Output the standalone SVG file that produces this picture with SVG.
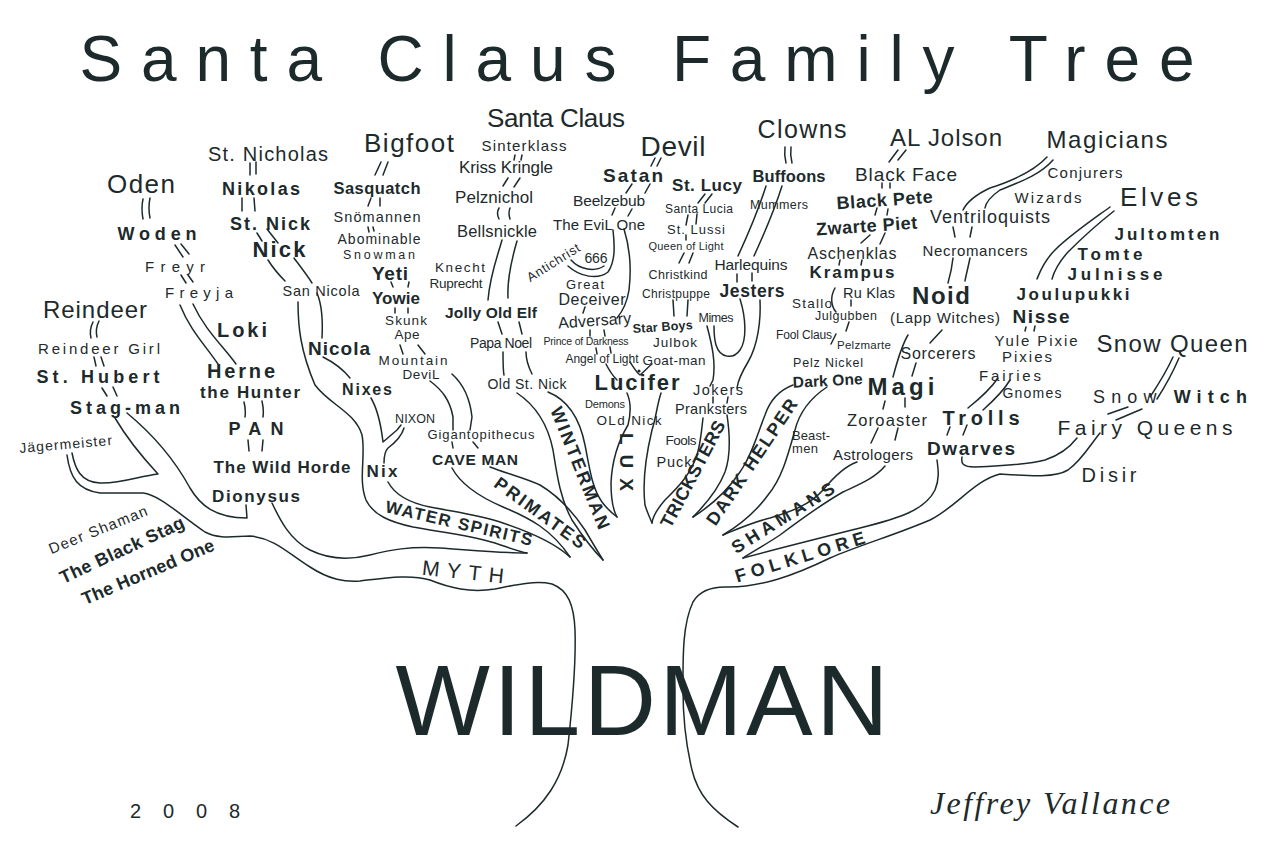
<svg xmlns="http://www.w3.org/2000/svg" width="1280" height="858" viewBox="0 0 1280 858">
<style>
text{font-family:"Liberation Sans",Arial,sans-serif;fill:#1d2a2c;text-anchor:middle}
.b{font-weight:bold}
.l{fill:none;stroke:#1d2a2c;stroke-width:1.5;stroke-linecap:round;stroke-linejoin:round}
.sig{font-family:"Liberation Serif",serif;font-style:italic}
</style>
<rect width="1280" height="858" fill="#ffffff"/>
<g id="connectors" class="l">
<path d="M67,455 C70,478 78,490 100,493 L143,493 C160,495 180,515 205,532 C220,540 235,536 250,536 C275,538 290,555 310,567 C330,580 345,582 360,581 C385,578 410,574 430,580 C450,588 470,593 495,589 C515,585 535,580 552,584 C568,590 574,605 575,630 C576,660 573,700 568,745 C562,780 545,805 516,826"/>
<path d="M72,453 C75,468 80,482 100,483 C120,484 140,476 158,474 C145,460 128,440 115,418"/>
<path d="M127,413 C150,432 172,455 190,488 C200,505 215,518 247,518 L246,505"/>
<path d="M272,503 C280,520 290,540 310,550 C330,560 350,560 370,555 C390,550 410,546 440,548 C470,550 500,553 527,553"/>
<path d="M298,302 C298,325 300,350 315,385 C330,405 355,412 362,435 C366,455 358,480 366,500 C373,515 390,522 413,527 C440,532 470,535 495,543 C510,548 520,552 527,553"/>
<path d="M388,482 C395,495 410,503 430,507 C455,512 480,515 503,523 C530,532 555,543 570,557"/>
<path d="M452,468 C460,483 475,495 503,507 C530,518 552,530 570,557"/>
<path d="M490,467 C505,473 525,478 540,485 C560,497 575,515 585,530 C592,542 598,552 603,560"/>
<path d="M517,393 C535,405 548,425 553,450 C557,475 560,498 572,520 C585,540 595,552 603,560"/>
<path d="M548,392 C568,400 580,420 585,445 C590,470 592,488 602,502 C608,510 613,514 617,517"/>
<path d="M627,393 C631,402 631,413 628,425 C619,440 612,460 611,483 C611,500 613,510 617,517"/>
<path d="M661,393 C657,405 656,418 652,430 C646,455 642,480 645,505 C647,512 650,518 652,523"/>
<path d="M703,418 C701,435 700,450 695,460 C688,478 675,490 665,500 C658,508 653,515 652,523"/>
<path d="M727,415 C730,435 731,455 725,472 C718,490 705,505 693,517"/>
<path d="M793,385 C780,390 770,400 765,415 C757,435 752,455 740,472 C728,490 712,505 693,517"/>
<path d="M827,387 C812,397 800,410 795,430 C788,455 782,478 768,495 C757,510 740,525 723,535"/>
<path d="M857,462 C845,466 833,478 823,490 C810,505 790,512 770,518 C750,523 735,530 723,535"/>
<path d="M885,466 C875,478 860,484 843,492 C820,505 800,520 780,535 C765,545 752,552 743,558"/>
<path d="M743,558 C780,548 820,538 860,528 C900,518 925,510 935,490 C940,478 938,468 937,460"/>
<path d="M962,457 C961,463 962,467 975,467 C1000,466 1030,464 1045,460 C1060,455 1070,447 1077,438"/>
<path d="M738,827 C712,810 698,795 692,770 C686,745 683,715 683,690 C683,660 682,625 693,602 C700,590 712,587 725,587 C760,588 795,575 830,558 C860,545 895,535 930,520 C955,508 975,480 1000,474 C1030,476 1055,478 1068,470 C1082,460 1090,445 1100,433"/>
<path d="M143,199 Q141,208 143,219 M150,198 Q148,208 150,218"/>
<path d="M175,245 L183,257 M181,244 L189,254"/>
<path d="M181,275 L186,283 M188,275 L193,282"/>
<path d="M180,305 C190,330 205,345 218,364 M193,304 C205,330 222,345 236,364"/>
<path d="M244,402 Q246,410 245,417 M262,401 Q264,410 263,417"/>
<path d="M248,440 L249,451 M263,440 L262,451"/>
<path d="M93,322 Q89,330 91,338 M99,321 Q95,329 97,337"/>
<path d="M94,357 L96,366 M101,357 L104,366"/>
<path d="M102,388 L107,396 M113,387 L117,396"/>
<path d="M250,163 L250,175 M256,162 L256,174"/>
<path d="M242,198 L242,211 M254,198 L255,211"/>
<path d="M257,233 L262,241 M267,229 L278,243"/>
<path d="M268,260 C273,268 279,275 285,281 M294,258 C300,266 307,275 312,283"/>
<path d="M317,293 C322,305 323,320 322,338"/>
<path d="M323,357 C333,362 342,368 350,378"/>
<path d="M371,398 C378,410 381,425 383,442 L397,430 L401,425"/>
<path d="M404,428 C402,435 396,442 388,448 C384,452 384,458 384,463"/>
<path d="M381,162 L375,175 M388,162 L383,175"/>
<path d="M371,198 L368,206 M380,198 L380,206"/>
<path d="M368,227 L369,232 M373,227 L374,231"/>
<path d="M391,282 L393,287 M409,282 L408,287"/>
<path d="M395,308 L395,313 M408,308 L408,313"/>
<path d="M400,345 L403,354 M418,345 L425,354"/>
<path d="M430,381 C442,390 450,400 453,417 L453,430 M452,374 C462,383 470,398 472,417 L470,430"/>
<path d="M452,442 L453,448 M473,442 L478,448"/>
<path d="M515,155 L514,160 M522,155 L521,160"/>
<path d="M508,178 L503,186 M520,178 L514,187"/>
<path d="M499,208 Q496,213 499,219 M510,208 Q508,213 510,219"/>
<path d="M502,240 C497,258 490,275 488,300 M517,241 C512,258 507,278 508,298"/>
<path d="M498,322 L502,334 M519,322 L522,334"/>
<path d="M503,352 C503,362 503,370 504,375 M526,352 C526,362 530,370 532,374"/>
<path d="M655,158 L651,166 M661,158 L657,166"/>
<path d="M632,184 L626,193 M650,184 L645,193"/>
<path d="M615,208 L612,215 M632,209 L628,216"/>
<path d="M613,230 C615,248 615,262 608,272 C598,280 580,277 568,266"/>
<path d="M604,266 C595,272 580,270 571,260"/>
<path d="M624,229 C629,245 632,265 629,290 C627,303 622,312 617,318"/>
<path d="M585,307 L583,313"/>
<path d="M590,330 L590,336 M604,330 L605,336"/>
<path d="M596,348 L597,354 M610,347 L611,353"/>
<path d="M606,364 C609,370 613,376 617,380"/>
<path d="M630,362 C634,368 637,373 640,375 C644,372 648,367 652,364"/>
<path d="M705,194 L698,203 M712,194 L705,203"/>
<path d="M688,215 L686,225 M697,214 L696,224"/>
<path d="M686,235 L686,240"/>
<path d="M684,253 L679,263 M693,253 L689,263"/>
<path d="M673,300 L674,316 M688,300 L687,316"/>
<path d="M785,147 Q784,155 786,163 M791,147 Q790,155 792,163"/>
<path d="M766,186 C760,205 750,230 738,256 M782,186 C776,205 765,232 754,256"/>
<path d="M737,274 L737,282 M752,273 L752,281"/>
<path d="M740,299 C746,318 747,340 740,350 C733,360 720,358 716,345 C714,338 714,332 714,326"/>
<path d="M707,326 C712,345 716,362 713,380 L710,386"/>
<path d="M760,300 C761,320 758,345 748,362 C742,372 738,380 737,388"/>
<path d="M713,397 L713,403 M728,397 L727,403"/>
<path d="M898,150 L889,162 M906,150 L898,160"/>
<path d="M882,183 L882,188 M890,183 L890,188"/>
<path d="M877,208 L875,215 M888,209 L887,215"/>
<path d="M870,235 L861,243 M885,233 L880,244"/>
<path d="M840,260 L839,265 M862,260 L861,265"/>
<path d="M835,288 C830,297 831,306 836,312"/>
<path d="M851,300 L851,306"/>
<path d="M849,322 L846,331"/>
<path d="M836,334 L831,344"/>
<path d="M1047,157 C1035,170 1015,180 990,188 C975,195 967,202 963,210 M1053,160 C1040,175 1020,182 1000,190 C990,197 986,202 985,208"/>
<path d="M953,227 L955,237 M972,227 L970,237"/>
<path d="M953,258 C952,268 950,276 948,283 M970,258 C968,268 966,275 965,281"/>
<path d="M908,335 C902,345 898,358 893,377"/>
<path d="M942,330 L930,343"/>
<path d="M916,363 L912,376"/>
<path d="M885,401 L883,409 M905,398 L905,407"/>
<path d="M878,428 L871,443 M898,428 L895,440"/>
<path d="M1110,207 C1095,218 1070,235 1055,250 C1043,262 1040,272 1037,279 M1114,211 C1100,222 1080,240 1068,252 C1058,263 1054,272 1052,279"/>
<path d="M1026,327 L1025,331 M1035,326 L1034,331"/>
<path d="M998,378 C990,390 978,400 968,408 M1010,380 C1003,392 992,402 983,410"/>
<path d="M950,427 L947,435 M967,425 L963,435"/>
<path d="M1173,357 C1168,368 1160,382 1150,397 M1179,358 C1173,372 1166,385 1157,399"/>
<path d="M1108,414 L1128,407 M1116,420 L1142,409"/>
</g>
<circle cx="639" cy="371" r="1.6" fill="#1d2a2c"/>

<g id="title"><text x="637" y="81" font-size="64" textLength="1115">Santa Claus Family Tree</text></g>
<g id="wildman"><text x="642" y="735" font-size="100" textLength="493">WILDMAN</text></g>
<g id="year"><text x="185" y="818" font-size="20" textLength="110">2008</text></g>
<g id="signature"><text class="sig" x="1050" y="814" font-size="32" textLength="240">Jeffrey Vallance</text></g>

<g id="n-santa-claus"><text x="556" y="127" font-size="26" textLength="138">Santa Claus</text></g>
<g id="n-sinterklass"><text x="524" y="151" font-size="15" textLength="85">Sinterklass</text></g>
<g id="n-kriss-kringle"><text x="506" y="173" font-size="17" textLength="94">Kriss Kringle</text></g>
<g id="n-pelznichol"><text x="494" y="203" font-size="17" textLength="78">Pelznichol</text></g>
<g id="n-bellsnickle"><text x="497" y="237" font-size="16.5" textLength="80">Bellsnickle</text></g>
<g id="n-knecht"><text x="460" y="272" font-size="13.5" textLength="50">Knecht</text><text x="456" y="288" font-size="13.5" textLength="53">Ruprecht</text></g>
<g id="n-jolly-old-elf"><text class="b" x="491" y="318" font-size="15.5" textLength="92">Jolly Old Elf</text></g>
<g id="n-papa-noel"><text x="501" y="348" font-size="14" textLength="62">Papa Noel</text></g>
<g id="n-old-st-nick"><text x="527" y="389" font-size="14" textLength="79">Old St. Nick</text></g>
<g id="n-antichrist"><text transform="translate(553,262) rotate(-32)" y="5" font-size="13" textLength="60">Antichrist</text></g>
<g id="n-666"><text x="596" y="263" font-size="14" textLength="23">666</text></g>
<g id="n-great-deceiver"><text x="585" y="289" font-size="13" textLength="38">Great</text><text x="592" y="305" font-size="16" textLength="67">Deceiver</text></g>
<g id="n-adversary"><text transform="rotate(-4 595 326)" x="595" y="326" font-size="16" textLength="73">Adversary</text></g>
<g id="n-prince"><text x="586" y="345" font-size="10.5" textLength="85">Prince of Darkness</text></g>
<g id="n-angel"><text x="602" y="363" font-size="12" textLength="73">Angel of Light</text></g>
<g id="n-demons"><text x="605" y="408" font-size="11" textLength="40">Demons</text></g>
<g id="n-devil"><text x="673" y="156" font-size="28" textLength="65">Devil</text></g>
<g id="n-satan"><text class="b" x="633" y="182" font-size="19" textLength="60">Satan</text></g>
<g id="n-beelzebub"><text x="609" y="206" font-size="15.5" textLength="72">Beelzebub</text></g>
<g id="n-evil-one"><text x="599" y="230" font-size="15" textLength="92">The EviL One</text></g>
<g id="n-st-lucy"><text class="b" x="707" y="191" font-size="17" textLength="70">St. Lucy</text></g>
<g id="n-santa-lucia"><text x="699" y="213" font-size="12" textLength="68">Santa Lucia</text></g>
<g id="n-st-lussi"><text x="696" y="234" font-size="13" textLength="58">St. Lussi</text></g>
<g id="n-queen-of-light"><text x="686" y="250" font-size="11" textLength="75">Queen of Light</text></g>
<g id="n-christkind"><text x="678" y="279" font-size="12.5" textLength="59">Christkind</text></g>
<g id="n-christpuppe"><text x="676" y="298" font-size="12" textLength="68">Christpuppe</text></g>
<g id="n-star-boys"><text class="b" transform="rotate(-4 663 331)" x="663" y="331" font-size="12.5" textLength="60">Star Boys</text></g>
<g id="n-julbok"><text x="675" y="347" font-size="13.5" textLength="44">Julbok</text></g>
<g id="n-goat-man"><text x="674" y="365" font-size="13.5" textLength="63">Goat-man</text></g>
<g id="n-mimes"><text x="716" y="322" font-size="12.5" textLength="35">Mimes</text></g>
<g id="n-lucifer"><text class="b" x="637" y="390" font-size="22" textLength="85">Lucifer</text></g>
<g id="n-old-nick"><text x="629" y="425" font-size="13.5" textLength="65">OLd Nick</text></g>
<g id="n-jokers"><text x="718" y="395" font-size="14.5" textLength="50">Jokers</text></g>
<g id="n-pranksters"><text x="711" y="414" font-size="14.5" textLength="72">Pranksters</text></g>
<g id="n-fools"><text x="681" y="445" font-size="13.5" textLength="31">Fools</text></g>
<g id="n-puck"><text x="674" y="467" font-size="14.5" textLength="35">Puck</text></g>
<g id="n-harlequins"><text x="751" y="270" font-size="15.5" textLength="73">Harlequins</text></g>
<g id="n-jesters"><text class="b" x="752" y="297" font-size="17.5" textLength="65">Jesters</text></g>
<g id="n-buffoons"><text class="b" x="789" y="182" font-size="16.5" textLength="73">Buffoons</text></g>
<g id="n-mummers"><text x="779" y="209" font-size="12.5" textLength="58">Mummers</text></g>
<g id="n-clowns"><text x="802" y="138" font-size="25" textLength="89">Clowns</text></g>
<g id="n-al-jolson"><text x="946" y="146" font-size="24" textLength="112">AL Jolson</text></g>
<g id="n-black-face"><text x="906" y="181" font-size="19" textLength="102">Black Face</text></g>
<g id="n-black-pete"><text class="b" transform="rotate(-4 885 206)" x="885" y="206" font-size="18" textLength="96">Black Pete</text></g>
<g id="n-zwarte-piet"><text class="b" transform="rotate(-4 867 232)" x="867" y="232" font-size="18" textLength="101">Zwarte Piet</text></g>
<g id="n-aschenklas"><text x="852" y="259" font-size="16" textLength="89">Aschenklas</text></g>
<g id="n-krampus"><text class="b" x="852" y="278" font-size="17" textLength="85">Krampus</text></g>
<g id="n-stallo"><text x="812" y="308" font-size="13.5" textLength="40">Stallo</text></g>
<g id="n-ru-klas"><text x="869" y="298" font-size="14.5" textLength="52">Ru Klas</text></g>
<g id="n-julgubben"><text x="846" y="320" font-size="12.5" textLength="62">Julgubben</text></g>
<g id="n-fool-claus"><text x="804" y="339" font-size="12" textLength="56">Fool Claus</text></g>
<g id="n-pelzmarte"><text x="864" y="349" font-size="11.5" textLength="54">Pelzmarte</text></g>
<g id="n-pelz-nickel"><text x="828" y="367" font-size="12.5" textLength="70">Pelz Nickel</text></g>
<g id="n-dark-one"><text class="b" transform="rotate(-3 828 386)" x="828" y="386" font-size="15.5" textLength="70">Dark One</text></g>
<g id="n-beastmen"><text x="811" y="440" font-size="13" textLength="38">Beast-</text><text x="805" y="453" font-size="13" textLength="26">men</text></g>
<g id="n-zoroaster"><text x="887" y="426" font-size="16.5" textLength="80">Zoroaster</text></g>
<g id="n-astrologers"><text x="873" y="460" font-size="15" textLength="80">Astrologers</text></g>
<g id="n-magi"><text class="b" x="901" y="395" font-size="24" textLength="67">Magi</text></g>
<g id="n-sorcerers"><text x="938" y="359" font-size="16" textLength="75">Sorcerers</text></g>
<g id="n-noid"><text class="b" x="941" y="304" font-size="24" textLength="58">Noid</text></g>
<g id="n-lapp-witches"><text x="945" y="323" font-size="15" textLength="110">(Lapp Witches)</text></g>
<g id="n-necromancers"><text x="975" y="256" font-size="15" textLength="105">Necromancers</text></g>
<g id="n-ventriloquists"><text x="990" y="223" font-size="18" textLength="120">Ventriloquists</text></g>
<g id="n-trolls"><text class="b" x="981" y="425" font-size="20" textLength="77">Trolls</text></g>
<g id="n-dwarves"><text class="b" x="971" y="455" font-size="19" textLength="88">Dwarves</text></g>
<g id="n-fairies"><text x="1010" y="381" font-size="15" textLength="62">Fairies</text></g>
<g id="n-magicians"><text x="1107" y="148" font-size="24" textLength="121">Magicians</text></g>
<g id="n-conjurers"><text x="1085" y="178" font-size="15" textLength="75">Conjurers</text></g>
<g id="n-wizards"><text x="1048" y="203" font-size="15" textLength="67">Wizards</text></g>
<g id="n-elves"><text x="1159" y="206" font-size="26" textLength="78">Elves</text></g>
<g id="n-jultomten"><text class="b" x="1167" y="240" font-size="17" textLength="105">Jultomten</text></g>
<g id="n-tomte"><text class="b" x="1110" y="260" font-size="17" textLength="65">Tomte</text></g>
<g id="n-julnisse"><text class="b" x="1115" y="280" font-size="17" textLength="95">Julnisse</text></g>
<g id="n-joulupukki"><text class="b" x="1073" y="300" font-size="17" textLength="113">Joulupukki</text></g>
<g id="n-nisse"><text class="b" x="1041" y="323" font-size="19" textLength="57">Nisse</text></g>
<g id="n-yule-pixie"><text x="1036" y="346" font-size="15" textLength="83">Yule Pixie</text></g>
<g id="n-pixies"><text x="1027" y="362" font-size="15" textLength="50">Pixies</text></g>
<g id="n-gnomes"><text x="1032" y="398" font-size="14" textLength="59">Gnomes</text></g>
<g id="n-snow-queen"><text x="1172" y="352" font-size="24" textLength="151">Snow Queen</text></g>
<g id="n-snow-witch"><text x="1170" y="403" font-size="18" textLength="154"><tspan>Snow </tspan><tspan class="b">Witch</tspan></text></g>
<g id="n-fairy-queens"><text x="1145" y="435" font-size="21" textLength="175">Fairy Queens</text></g>
<g id="n-disir"><text x="1109" y="482" font-size="20" textLength="55">Disir</text></g>

<g id="n-st-nicholas"><text x="268" y="161" font-size="20" textLength="120">St. Nicholas</text></g>
<g id="n-nikolas"><text class="b" x="261" y="195" font-size="18" textLength="78">Nikolas</text></g>
<g id="n-st-nick"><text class="b" x="270" y="230" font-size="18" textLength="80">St. Nick</text></g>
<g id="n-nick"><text class="b" x="279" y="257" font-size="22" textLength="53">Nick</text></g>
<g id="n-san-nicola"><text x="321" y="296" font-size="14.5" textLength="77">San Nicola</text></g>
<g id="n-nicola"><text class="b" x="339" y="355" font-size="19" textLength="62">Nicola</text></g>
<g id="n-nixes"><text class="b" x="367" y="395" font-size="16" textLength="50">Nixes</text></g>
<g id="n-nixon"><text x="415" y="423" font-size="12.5" textLength="40">NIXON</text></g>
<g id="n-nix"><text class="b" x="382" y="477" font-size="17" textLength="31">Nix</text></g>
<g id="n-bigfoot"><text x="409" y="152" font-size="26" textLength="90">Bigfoot</text></g>
<g id="n-sasquatch"><text class="b" x="377" y="194" font-size="16.5" textLength="87">Sasquatch</text></g>
<g id="n-snomannen"><text x="377" y="222" font-size="14.5" textLength="87">Snömannen</text></g>
<g id="n-abominable"><text x="379" y="244" font-size="14" textLength="83">Abominable</text><text x="379" y="259" font-size="12.5" textLength="72">Snowman</text></g>
<g id="n-yeti"><text class="b" x="390" y="280" font-size="19" textLength="36">Yeti</text></g>
<g id="n-yowie"><text class="b" x="396" y="304" font-size="17" textLength="48">Yowie</text></g>
<g id="n-skunk-ape"><text x="406" y="325" font-size="13.5" textLength="42">Skunk</text><text x="407" y="339" font-size="13.5" textLength="25">Ape</text></g>
<g id="n-mountain-devil"><text x="413" y="365" font-size="13.5" textLength="69">Mountain</text><text x="421" y="379" font-size="13.5" textLength="37">DeviL</text></g>
<g id="n-gigantopithecus"><text x="481" y="439" font-size="13" textLength="107">Gigantopithecus</text></g>
<g id="n-cave-man"><text class="b" x="475" y="465" font-size="15.5" textLength="86">CAVE MAN</text></g>
<g id="n-oden"><text x="141" y="193" font-size="26" textLength="68">Oden</text></g>
<g id="n-woden"><text class="b" x="157" y="240" font-size="18" textLength="79">Woden</text></g>
<g id="n-freyr"><text x="175" y="272" font-size="15" textLength="60">Freyr</text></g>
<g id="n-freyja"><text x="199" y="298" font-size="15" textLength="68">Freyja</text></g>
<g id="n-loki"><text class="b" x="242" y="337" font-size="20" textLength="50">Loki</text></g>
<g id="n-herne"><text class="b" x="241" y="378" font-size="20" textLength="68">Herne</text><text class="b" x="250" y="398" font-size="17" textLength="100">the Hunter</text></g>
<g id="n-pan"><text class="b" x="256" y="435" font-size="18" textLength="55">PAN</text></g>
<g id="n-wild-horde"><text class="b" x="282" y="473" font-size="17" textLength="137">The Wild Horde</text></g>
<g id="n-dionysus"><text class="b" x="256" y="502" font-size="17" textLength="88">Dionysus</text></g>
<g id="n-reindeer"><text x="95" y="318" font-size="24" textLength="104">Reindeer</text></g>
<g id="n-reindeer-girl"><text x="99" y="354" font-size="15" textLength="122">Reindeer Girl</text></g>
<g id="n-st-hubert"><text class="b" x="98" y="383" font-size="18" textLength="123">St. Hubert</text></g>
<g id="n-stag-man"><text class="b" x="125" y="414" font-size="18" textLength="110">Stag-man</text></g>
<g id="n-jagermeister"><text transform="rotate(-5 66 449)" x="66" y="449" font-size="14" textLength="93">Jägermeister</text></g>
<g id="n-deer-shaman"><text transform="translate(98,530) rotate(-22)" y="5" font-size="15" textLength="105">Deer Shaman</text></g>
<g id="n-black-stag"><text class="b" transform="translate(122,550) rotate(-25)" y="6" font-size="18" textLength="135">The Black Stag</text></g>
<g id="n-horned-one"><text class="b" transform="translate(148,572) rotate(-23)" y="6" font-size="18" textLength="142">The Horned One</text></g>

<g id="b-water-spirits"><text class="b" transform="translate(459,523) rotate(13)" y="6" font-size="17" textLength="150">WATER SPIRITS</text></g>
<g id="b-myth"><text transform="translate(463,572) rotate(6)" y="7" font-size="21" textLength="82">MYTH</text></g>
<g id="b-primates"><text class="b" transform="translate(540,513) rotate(36)" y="6" font-size="18" textLength="108">PRIMATES</text></g>
<g id="b-winterman"><text class="b" transform="translate(580,468) rotate(68)" y="6" font-size="18" textLength="130">WINTERMAN</text></g>
<g id="b-lux"><text class="b" transform="translate(627,462) rotate(90)" y="7" font-size="19" textLength="58">LUX</text></g>
<g id="b-tricksters"><text class="b" transform="translate(693,474) rotate(-62)" y="6" font-size="18" textLength="118">TRICKSTERS</text></g>
<g id="b-dark-helper"><text class="b" transform="translate(752,462) rotate(-56)" y="6" font-size="18" textLength="148">DARK HELPER</text></g>
<g id="b-shamans"><text class="b" transform="translate(783,518) rotate(-32)" y="6" font-size="18" textLength="118">SHAMANS</text></g>
<g id="b-folklore"><text class="b" transform="translate(800,557) rotate(-17)" y="6" font-size="18" textLength="135">FOLKLORE</text></g>
</svg>
